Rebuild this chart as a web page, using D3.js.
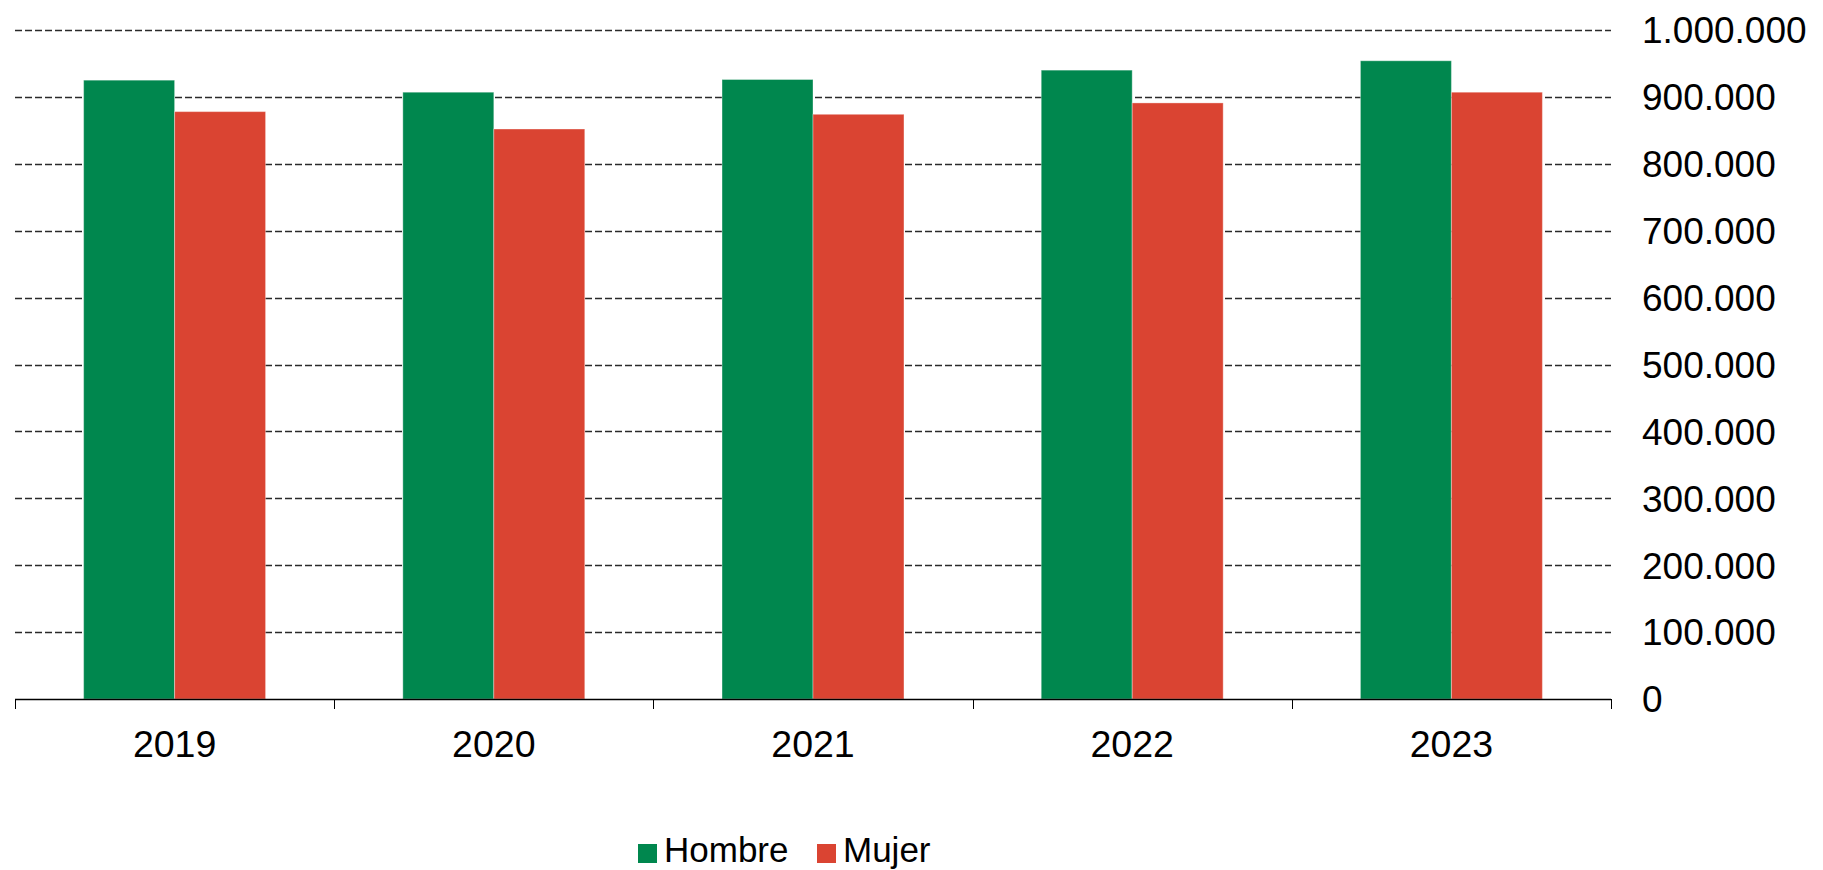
<!DOCTYPE html>
<html>
<head>
<meta charset="utf-8">
<script src="https://cdn.jsdelivr.net/npm/d3@7"></script>
<style>
  html, body { margin: 0; padding: 0; background: #fff; }
  svg { display: block; }
  text { font-family: "Liberation Sans", Arial, sans-serif; fill: #000; }
</style>
</head>
<body>
<svg id="chart" width="1823" height="870"></svg>
<script>
const years = ["2019", "2020", "2021", "2022", "2023"];
const seriesNames = ["Hombre", "Mujer"];
const hombre = [925000, 907000, 926000, 940000, 954000];
const mujer  = [878000, 852000, 874000, 891000, 907000];
const yTicks = [0, 100000, 200000, 300000, 400000, 500000, 600000, 700000, 800000, 900000, 1000000];
const colors = ["#00874E", "#DA4432"];

const svg = d3.select("#chart");
const plotLeft = 15, plotRight = 1611, plotTop = 30, plotBottom = 699;

const x0 = d3.scaleBand().domain(years).range([plotLeft, plotRight]).paddingInner(0.43).paddingOuter(0.215);
const x1 = d3.scaleBand().domain(seriesNames).range([0, x0.bandwidth()]);
const y = d3.scaleLinear().domain([0, 1000000]).range([plotBottom, plotTop]);

const es = d3.formatLocale({decimal: ",", thousands: ".", grouping: [3], currency: ["", " €"]});
const fmt = es.format(",");

// gridlines
svg.append("g").selectAll("line").data(yTicks.filter(d => d > 0)).join("line")
  .attr("x1", plotLeft).attr("x2", plotRight)
  .attr("y1", d => Math.round(y(d)) + 0.5).attr("y2", d => Math.round(y(d)) + 0.5)
  .attr("stroke", "#2a2a2a").attr("stroke-width", 1.3).attr("stroke-dasharray", "7,3");

// bars
const data = years.map((yr, i) => ({year: yr, values: [hombre[i], mujer[i]]}));
const groups = svg.append("g").selectAll("g").data(data).join("g")
  .attr("transform", d => `translate(${x0(d.year)},0)`);
groups.selectAll("rect").data(d => d.values.map((v, j) => ({name: seriesNames[j], v, j}))).join("rect")
  .attr("x", d => x1(d.name))
  .attr("width", x1.bandwidth())
  .attr("y", d => y(d.v))
  .attr("height", d => y(0) - y(d.v))
  .attr("fill", d => colors[d.j])
  .attr("stroke", "rgba(255,255,255,0.35)").attr("stroke-width", 1);

// x axis line
svg.append("line").attr("x1", plotLeft).attr("x2", plotRight)
  .attr("y1", plotBottom + 0.5).attr("y2", plotBottom + 0.5)
  .attr("stroke", "#000").attr("stroke-width", 1.3);
// tick marks at category boundaries
const step = x0.step();
const bounds = d3.range(years.length + 1).map(i => plotLeft + i * step);
svg.append("g").selectAll("line").data(bounds).join("line")
  .attr("x1", d => Math.round(d) + 0.5).attr("x2", d => Math.round(d) + 0.5)
  .attr("y1", plotBottom).attr("y2", plotBottom + 10)
  .attr("stroke", "#000").attr("stroke-width", 1);

// x labels
svg.append("g").selectAll("text").data(years).join("text")
  .attr("x", d => x0(d) + x0.bandwidth() / 2)
  .attr("y", 757)
  .attr("text-anchor", "middle")
  .attr("font-size", 37.5)
  .text(d => d);

// y labels (right side)
svg.append("g").selectAll("text").data(yTicks).join("text")
  .attr("x", 1642)
  .attr("y", d => y(d))
  .attr("dy", "0.36em")
  .attr("font-size", 37)
  .text(d => fmt(d));

// legend
const legend = svg.append("g");
const legendItems = [
  {name: seriesNames[0], color: colors[0], x: 638},
  {name: seriesNames[1], color: colors[1], x: 817}
];
const li = legend.selectAll("g").data(legendItems).join("g")
  .attr("transform", d => `translate(${d.x},0)`);
li.append("rect").attr("x", 0).attr("y", 844).attr("width", 19).attr("height", 19)
  .attr("fill", d => d.color);
li.append("text").attr("x", 26).attr("y", 862).attr("font-size", 35).text(d => d.name);
</script>
</body>
</html>
